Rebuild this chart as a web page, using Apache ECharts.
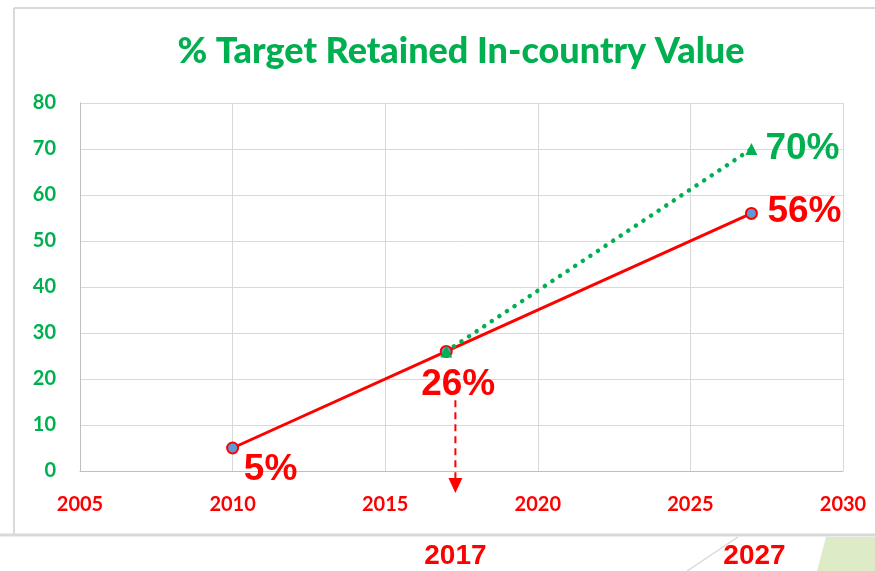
<!DOCTYPE html>
<html><head><meta charset="utf-8">
<script src="https://cdn.jsdelivr.net/npm/echarts@6/dist/echarts.min.js"></script>
<style>html,body{margin:0;padding:0;background:#fff}#c{width:875px;height:571px}</style>
</head><body><div id="c"></div>
<script>
const title = '% Target Retained In-country Value';
const actualYears = [2010, 2017, 2027];
const actualValues = [5, 26, 56];
const actualLabels = ['5%', '26%', '56%'];
const targetYears = [2017, 2027];
const targetValues = [26, 70];
const targetLabels = ['', '70%'];
const xTicks = [2005, 2010, 2015, 2020, 2025, 2030];
const yTicks = [0, 10, 20, 30, 40, 50, 60, 70, 80];
const markerYears = ['2017', '2027'];
const markerPos = [2017.3, 2027.1];
const arrowRange = [15.4, -4.8];

const RED = '#FF0000', GREEN = '#00B050';
const chart = echarts.init(document.getElementById('c'));
const labelOffsets = [[38, 22], [12, 33], [53, -2]];
chart.setOption({
  animation: false,
  title: {text: title, left: 456, top: 28, textAlign: 'center',
    textStyle: {color: GREEN, fontFamily: 'Lato', fontWeight: 900, fontSize: 36}},
  grid: {left: 80, right: 32, top: 103, bottom: 100},
  xAxis: {type: 'value', min: xTicks[0], max: xTicks[xTicks.length-1], interval: 5,
    axisLine: {show: true, lineStyle: {color: '#bfbfbf', width: 1}}, axisTick: {show: false},
    splitLine: {show: true, lineStyle: {color: '#d9d9d9'}},
    axisLabel: {color: RED, fontFamily: 'Lato', fontWeight: 'bold', fontSize: 20, margin: 24, formatter: v => String(v)}},
  yAxis: {type: 'value', min: yTicks[0], max: yTicks[yTicks.length-1], interval: 10,
    axisLine: {show: true, lineStyle: {color: '#bfbfbf', width: 1}}, axisTick: {show: false},
    splitLine: {show: true, lineStyle: {color: '#d9d9d9'}},
    axisLabel: {color: GREEN, fontFamily: 'Lato', fontWeight: 'bold', fontSize: 20, margin: 24, formatter: v => String(v)}},
  series: [
    {type: 'line', z: 4, data: actualYears.map((y, i) => ({value: [y, actualValues[i]],
        label: {show: true, formatter: actualLabels[i], position: 'inside', offset: labelOffsets[i],
          color: RED, fontFamily: 'Liberation Sans', fontWeight: 'bold', fontSize: 37}})),
      symbol: 'circle', symbolSize: 11, itemStyle: {color: '#5B9BD5', borderColor: RED, borderWidth: 2},
      lineStyle: {color: RED, width: 3}},
    {type: 'line', z: 5, data: targetYears.map((y, i) => ({value: [y, targetValues[i]],
        label: {show: !!targetLabels[i], formatter: targetLabels[i], position: 'right', distance: 0, offset: [8, 0],
          color: GREEN, fontFamily: 'Liberation Sans', fontWeight: 'bold', fontSize: 37}})),
      symbol: 'triangle', symbolSize: 12, itemStyle: {color: GREEN},
      lineStyle: {color: GREEN, width: 4.5, type: [0.1, 9], cap: 'round'}}
  ]
});
function drawExtras() {
  const top = chart.convertToPixel({gridIndex: 0}, [markerPos[0], arrowRange[0]]);
  const bot = chart.convertToPixel({gridIndex: 0}, [markerPos[0], arrowRange[1]]);
  const graphics = [
    {type: 'line', shape: {x1: top[0], y1: top[1], x2: bot[0], y2: bot[1] - 14},
      style: {stroke: RED, lineWidth: 2, lineDash: [7, 5]}},
    {type: 'polygon', shape: {points: [[bot[0] - 7, bot[1] - 15], [bot[0] + 7, bot[1] - 15], [bot[0], bot[1]]]},
      style: {fill: RED}},
    {type: 'line', shape: {x1: 14, y1: 8, x2: 875, y2: 8}, style: {stroke: '#d9d9d9', lineWidth: 2}},
    {type: 'line', shape: {x1: 14, y1: 8, x2: 14, y2: 535}, style: {stroke: '#d9d9d9', lineWidth: 2}},
    {type: 'line', shape: {x1: 0, y1: 535, x2: 875, y2: 535}, style: {stroke: '#d9d9d9', lineWidth: 3}},
    {type: 'line', shape: {x1: 687, y1: 571, x2: 738, y2: 537}, style: {stroke: '#d9d9d9', lineWidth: 1.5}},
    {type: 'polygon', shape: {points: [[826, 537], [875, 537], [875, 571], [817, 571]]}, style: {fill: '#DDEBC7'}}
  ];
  markerYears.forEach((t, i) => {
    const p = chart.convertToPixel({gridIndex: 0}, [markerPos[i], 0]);
    graphics.push({type: 'text', x: p[0], y: 556, style: {text: t, fill: RED, font: 'bold 28px "Liberation Sans"',
      align: 'center', verticalAlign: 'middle'}});
  });
  chart.setOption({graphic: graphics});
}
drawExtras();
</script></body></html>
